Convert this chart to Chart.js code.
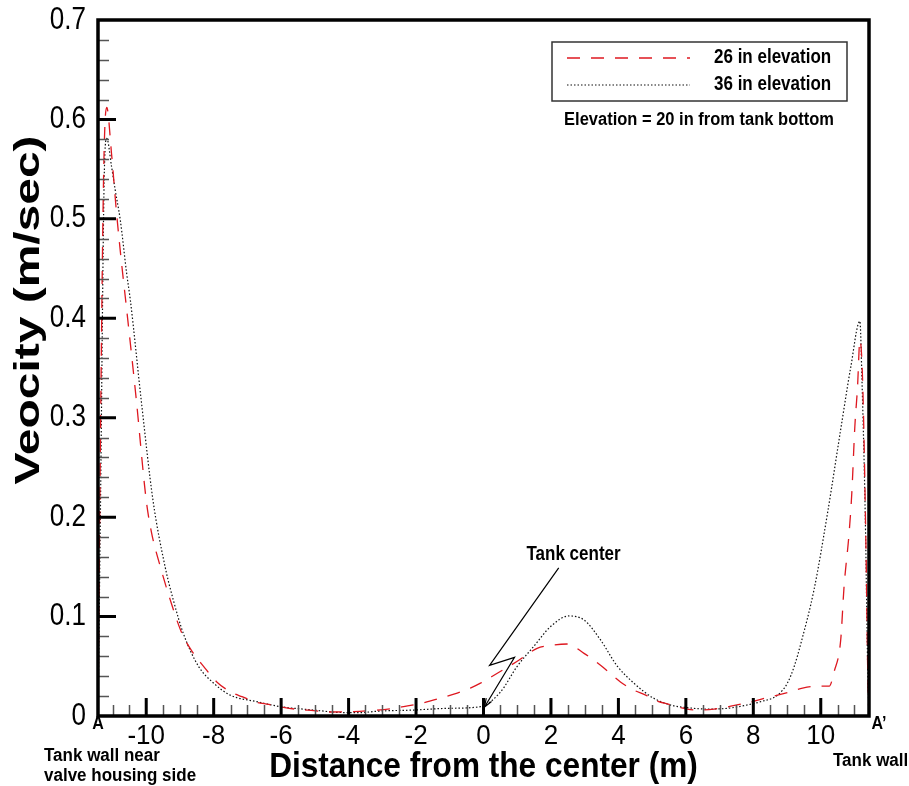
<!DOCTYPE html>
<html>
<head>
<meta charset="utf-8">
<script src="https://cdn.jsdelivr.net/npm/chart.js@4.4.1/dist/chart.umd.min.js"></script>
<style>
  html, body { margin: 0; padding: 0; background: #fff; }
  #wrap { width: 909px; height: 786px; position: relative; }
</style>
</head>
<body>
<div id="wrap"><canvas id="grafica"></canvas></div>
<script>
// =================== Datos ===================
const X_MIN = -11.43;
const X_MAX = 11.43;
const Y_MIN = 0;
const Y_MAX = 0.7;

const xTicks = [-10, -8, -6, -4, -2, 0, 2, 4, 6, 8, 10];
const yTicks = [0, 0.1, 0.2, 0.3, 0.4, 0.5, 0.6, 0.7];

// 26 in elevation (rojo, discontinua)
const x26 = [-11.43, -11.38, -11.26, -11.17, -11.03, -10.88, -10.73, -10.6, -10.3, -10.0, -9.84, -9.58, -9.29,
  -8.94, -8.6, -8.3, -7.9, -7.51, -7.16, -6.72, -6.37, -5.93, -5.53, -5.04, -4.54, -4.0, -3.35, -2.66,
  -2.37, -1.77, -1.18, -0.78, -0.39, -0.09, 0.41, 1.0, 1.59, 1.99, 2.48, 2.98, 3.47, 4.07, 4.46, 4.81,
  5.15, 5.5, 6.04, 6.34, 6.84, 7.13, 7.63, 7.92, 8.32, 8.72, 9.11, 9.46, 9.9, 10.25, 10.4, 10.59, 10.69,
  10.84, 10.92, 11.01, 11.09, 11.16, 11.24, 11.34, 11.4, 11.43];
const v26 = [0, 0.2, 0.55, 0.612, 0.566, 0.506, 0.455, 0.415, 0.32, 0.217, 0.184, 0.15, 0.117,
  0.083, 0.063, 0.05, 0.034, 0.0245, 0.0194, 0.0138, 0.0117, 0.0087, 0.0067, 0.0054, 0.004, 0.0042, 0.0054, 0.0077,
  0.0094, 0.0134, 0.019, 0.023, 0.028, 0.033, 0.043, 0.055, 0.068, 0.071, 0.0724, 0.063, 0.051, 0.034, 0.026, 0.021,
  0.015, 0.0117, 0.007, 0.006, 0.007, 0.0084, 0.012, 0.014, 0.0178, 0.021, 0.0245, 0.028, 0.030, 0.030, 0.045, 0.076, 0.13,
  0.184, 0.224, 0.291, 0.331, 0.378, 0.338, 0.17, 0.03, 0];

// 36 in elevation (negro, punteada)
const x36 = [-11.43, -11.36, -11.24, -11.17, -11.03, -10.92, -10.77, -10.58, -10.47, -10.15, -9.8, -9.44, -9.2,
  -8.9, -8.45, -8.0, -7.51, -6.72, -6.02, -5.04, -4.35, -3.75, -3.06, -2.07, -1.08, -0.09, 0.5, 1.0, 1.49,
  1.99, 2.53, 2.98, 3.47, 3.97, 4.46, 4.76, 5.05, 5.55, 6.04, 6.64, 7.23, 7.72, 8.22, 8.72, 9.01, 9.21, 9.41,
  9.8, 10.2, 10.59, 10.89, 11.16, 11.22, 11.32, 11.39, 11.43];
const v36 = [0, 0.2, 0.55, 0.581, 0.553, 0.529, 0.499, 0.445, 0.418, 0.318, 0.217, 0.15, 0.117,
  0.083, 0.05, 0.033, 0.021, 0.0144, 0.0094, 0.006, 0.0037, 0.0033, 0.005, 0.006, 0.0077, 0.0094, 0.024, 0.05, 0.07,
  0.09, 0.1006, 0.0966, 0.0765, 0.05, 0.033, 0.0245, 0.0178, 0.011, 0.0084, 0.007, 0.0077, 0.0104, 0.0144, 0.021, 0.033, 0.0496, 0.073,
  0.127, 0.204, 0.288, 0.351, 0.397, 0.34, 0.2, 0.05, 0];

const serieNombres = ["26 in elevation", "36 in elevation"];
const notaElevacion = "Elevation = 20 in from tank bottom";
const tituloX = "Distance from the center (m)";
const tituloY = "Veocity (m/sec)";

// =================== Helpers ===================
const FONT = "'Liberation Sans', Arial, sans-serif";

function puntos(xs, vs) {
  return xs.map((x, i) => ({ x, y: vs[i] }));
}

// sx / sy deforman el texto como en la figura original
function texto(ctx, str, x, y, font, opts = {}) {
  const { align = "center", sx = 1, sy = 1, rot = 0, base = "middle" } = opts;
  ctx.save();
  ctx.translate(x, y);
  if (rot) ctx.rotate(rot);
  ctx.scale(sx, sy);
  ctx.font = font;
  ctx.fillStyle = "#000";
  ctx.textAlign = align;
  ctx.textBaseline = base;
  ctx.fillText(str, 0, 0);
  ctx.restore();
}

// =================== Decoración (marco, ticks, textos) ===================
const decoracion = {
  id: "decoracion",
  afterDatasetsDraw(chart) {
    const { ctx, chartArea: a, scales: { x, y } } = chart;
    ctx.save();

    // ticks menores
    ctx.strokeStyle = "#555";
    ctx.lineWidth = 1.5;
    ctx.beginPath();
    for (let v = -11; v <= 11; v += 0.5) {
      if (Number.isInteger(v) && v % 2 === 0) continue;
      const px = Math.round(x.getPixelForValue(v)) + 0.5;
      ctx.moveTo(px, a.bottom);
      ctx.lineTo(px, a.bottom - 11);
    }
    for (let i = 1; i < 35; i++) {
      if (i % 5 === 0) continue;
      const py = Math.round(y.getPixelForValue(i * 0.02)) + 0.5;
      ctx.moveTo(a.left, py);
      ctx.lineTo(a.left + 11, py);
    }
    ctx.stroke();

    // ticks mayores
    ctx.strokeStyle = "#000";
    ctx.lineWidth = 3;
    ctx.beginPath();
    xTicks.forEach(v => {
      const px = x.getPixelForValue(v);
      ctx.moveTo(px, a.bottom);
      ctx.lineTo(px, a.bottom - 18);
    });
    yTicks.slice(1, -1).forEach(v => {
      const py = y.getPixelForValue(v);
      ctx.moveTo(a.left, py);
      ctx.lineTo(a.left + 18, py);
    });
    ctx.stroke();

    // marco
    ctx.lineWidth = 3.5;
    ctx.strokeRect(a.left, a.top, a.right - a.left, a.bottom - a.top);

    // etiquetas de los ejes
    yTicks.forEach(v => {
      texto(ctx, v === 0 ? "0" : v.toFixed(1), a.left - 12, y.getPixelForValue(v), `26px ${FONT}`,
        { align: "right", sy: 1.2 });
    });
    xTicks.forEach(v => {
      texto(ctx, String(v), x.getPixelForValue(v), a.bottom + 20, `26px ${FONT}`, { sy: 1.05 });
    });

    // títulos
    texto(ctx, tituloX, (a.left + a.right) / 2, a.bottom + 51, `bold 34px ${FONT}`, { sx: 0.93, sy: 1.05 });
    texto(ctx, tituloY, 29, a.top + 290, `bold 35px ${FONT}`, { sx: 1.37, rot: -Math.PI / 2 });

    // A / A' y paredes
    texto(ctx, "A", a.left, a.bottom + 8, `bold 16px ${FONT}`, { sy: 1.1 });
    texto(ctx, "A\u2019", a.right + 10, a.bottom + 8, `bold 16px ${FONT}`, { sy: 1.1 });
    texto(ctx, "Tank wall near", 44, a.bottom + 40, `bold 17px ${FONT}`, { align: "left", sy: 1.1 });
    texto(ctx, "valve housing side", 44, a.bottom + 60, `bold 17px ${FONT}`, { align: "left", sy: 1.1 });
    texto(ctx, "Tank wall", a.right - 36, a.bottom + 45, `bold 17px ${FONT}`, { align: "left", sy: 1.1 });

    // leyenda
    const bx = a.right - 317, by = a.top + 22, bw = 295, bh = 59;
    ctx.lineWidth = 1.5;
    ctx.strokeStyle = "#333";
    ctx.strokeRect(bx, by, bw, bh);
    chart.data.datasets.forEach((ds, i) => {
      const ly = by + 16 + i * 27;
      ctx.save();
      ctx.strokeStyle = ds.borderColor;
      ctx.lineWidth = ds.borderWidth;
      ctx.setLineDash(ds.borderDash);
      ctx.beginPath();
      ctx.moveTo(bx + 15, ly);
      ctx.lineTo(bx + 138, ly);
      ctx.stroke();
      ctx.restore();
      texto(ctx, ds.label, bx + 162, ly, `bold 17px ${FONT}`, { align: "left", sy: 1.15 });
    });
    texto(ctx, notaElevacion, bx + 147, by + 78, `bold 17px ${FONT}`, { sx: 0.97, sy: 1.1 });

    // "Tank center" con flecha en zigzag
    const p = (vx, vy) => [x.getPixelForValue(vx), y.getPixelForValue(vy)];
    const [tx, ty] = p(2.67, 0.162);
    texto(ctx, "Tank center", tx, ty, `bold 17px ${FONT}`, { sy: 1.15 });
    const ruta = [p(2.23, 0.149), p(0.18, 0.051), p(0.92, 0.059), p(0.03, 0.009)];
    ctx.strokeStyle = "#000";
    ctx.lineWidth = 1.2;
    ctx.beginPath();
    ruta.forEach(([px, py], i) => (i ? ctx.lineTo(px, py) : ctx.moveTo(px, py)));
    ctx.stroke();
    const [x1, y1] = ruta[2], [x2, y2] = ruta[3];
    const ang = Math.atan2(y2 - y1, x2 - x1);
    ctx.beginPath();
    ctx.moveTo(x2, y2);
    ctx.lineTo(x2 - 9 * Math.cos(ang - 0.35), y2 - 9 * Math.sin(ang - 0.35));
    ctx.moveTo(x2, y2);
    ctx.lineTo(x2 - 9 * Math.cos(ang + 0.35), y2 - 9 * Math.sin(ang + 0.35));
    ctx.stroke();

    ctx.restore();
  }
};

// =================== Gráfica ===================
const ctxG = document.getElementById("grafica").getContext("2d");

const chart = new Chart(ctxG, {
  type: "line",
  data: {
    datasets: [{
      label: serieNombres[0],
      data: puntos(x26, v26),
      borderColor: "rgb(222,24,32)",
      borderWidth: 1.3,
      borderDash: [13, 11],
      pointRadius: 0,
      cubicInterpolationMode: "monotone",
      fill: false
    }, {
      label: serieNombres[1],
      data: puntos(x36, v36),
      borderColor: "#111",
      borderWidth: 1.2,
      borderDash: [1.5, 2],
      pointRadius: 0,
      cubicInterpolationMode: "monotone",
      fill: false
    }]
  },
  options: {
    responsive: true,
    maintainAspectRatio: false,
    animation: false,
    layout: { padding: { top: 20, right: 40, left: 0, bottom: 0 } },
    plugins: { legend: { display: false }, tooltip: { enabled: false } },
    scales: {
      x: {
        type: "linear",
        min: X_MIN,
        max: X_MAX,
        afterBuildTicks: (s) => { s.ticks = xTicks.map(v => ({ value: v })); },
        afterFit: (s) => { s.height = 70; },
        grid: { display: false, drawTicks: false },
        border: { display: false },
        ticks: { display: false }
      },
      y: {
        min: Y_MIN,
        max: Y_MAX,
        afterBuildTicks: (s) => { s.ticks = yTicks.map(v => ({ value: v })); },
        afterFit: (s) => { s.width = 98; },
        grid: { display: false, drawTicks: false },
        border: { display: false },
        ticks: { display: false }
      }
    }
  },
  plugins: [decoracion]
});
</script>
</body>
</html>
